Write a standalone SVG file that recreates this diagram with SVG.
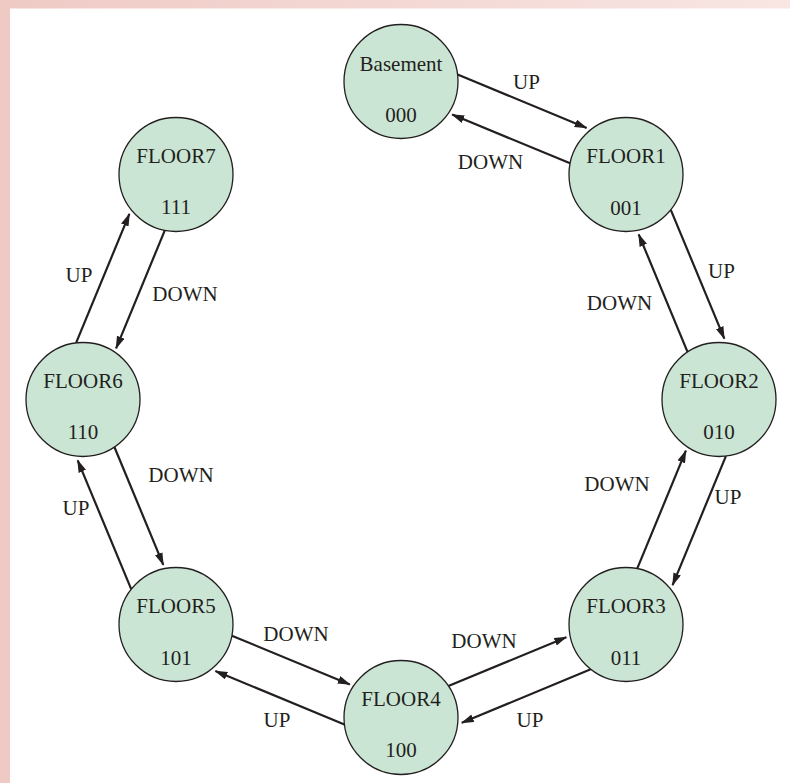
<svg xmlns="http://www.w3.org/2000/svg" width="790" height="783" viewBox="0 0 790 783">
<defs>
<linearGradient id="topband" x1="0" y1="0" x2="1" y2="0">
<stop offset="0" stop-color="#efcac5"/>
<stop offset="1" stop-color="#f8e6e3"/>
</linearGradient>
<marker id="ah" viewBox="0 0 13 8" refX="12" refY="4" markerWidth="13" markerHeight="8" markerUnits="userSpaceOnUse" orient="auto">
<path d="M0,0 L13,4 L0,8 z" fill="#231f20"/>
</marker>
<style>
.node circle{fill:#cbe5d4;stroke:#231f20;stroke-width:1.3}
text{font-family:"Liberation Serif","Times New Roman",serif;font-size:21px;fill:#231f20;text-anchor:middle}
.edge{stroke:#231f20;stroke-width:2.2;fill:none;marker-end:url(#ah)}
</style>
</defs>
<rect x="0" y="0" width="790" height="783" fill="#ffffff"/>
<rect x="0" y="0" width="790" height="8.5" fill="url(#topband)"/>
<rect x="0" y="0" width="10" height="783" fill="#efcac5"/>

<g id="connectors">
<line class="edge" x1="457.6" y1="74.6" x2="586.6" y2="127.9"/>
<line class="edge" x1="570.1" y1="163.3" x2="452.2" y2="114.6"/>
<line class="edge" x1="670.8" y1="209.8" x2="724.3" y2="338.7"/>
<line class="edge" x1="687.6" y1="352.1" x2="638.7" y2="234.3"/>
<line class="edge" x1="725.9" y1="456.1" x2="672.6" y2="585.1"/>
<line class="edge" x1="637.2" y1="568.6" x2="685.9" y2="450.7"/>
<line class="edge" x1="590.7" y1="669.3" x2="461.8" y2="722.8"/>
<line class="edge" x1="448.4" y1="686.1" x2="566.3" y2="637.2"/>
<line class="edge" x1="344.4" y1="724.4" x2="215.4" y2="671.1"/>
<line class="edge" x1="231.9" y1="635.7" x2="349.8" y2="684.4"/>
<line class="edge" x1="131.2" y1="589.2" x2="77.7" y2="460.3"/>
<line class="edge" x1="114.4" y1="447.0" x2="163.3" y2="564.8"/>
<line class="edge" x1="76.1" y1="342.9" x2="129.4" y2="213.9"/>
<line class="edge" x1="164.8" y1="230.4" x2="116.1" y2="348.3"/>
<text x="526.5" y="89">UP</text>
<text x="490.5" y="169">DOWN</text>
<text x="721.5" y="278">UP</text>
<text x="619.5" y="310">DOWN</text>
<text x="617" y="491">DOWN</text>
<text x="728" y="504">UP</text>
<text x="484" y="648">DOWN</text>
<text x="530" y="727">UP</text>
<text x="296" y="641">DOWN</text>
<text x="277" y="727">UP</text>
<text x="181" y="482">DOWN</text>
<text x="76" y="515">UP</text>
<text x="79" y="282">UP</text>
<text x="185" y="301">DOWN</text>
</g>

<g id="basement" class="node">
<circle cx="401" cy="81.5" r="57"/>
<text x="401" y="71">Basement</text>
<text x="401" y="122">000</text>
</g>
<g id="floor1" class="node">
<circle cx="626" cy="174.5" r="57"/>
<text x="626" y="162.5">FLOOR1</text>
<text x="626" y="214.5">001</text>
</g>
<g id="floor2" class="node">
<circle cx="719" cy="399.5" r="57"/>
<text x="719" y="387.5">FLOOR2</text>
<text x="719" y="439">010</text>
</g>
<g id="floor3" class="node">
<circle cx="626" cy="624.5" r="57"/>
<text x="626" y="612.5">FLOOR3</text>
<text x="626" y="664.5">011</text>
</g>
<g id="floor4" class="node">
<circle cx="401" cy="717.5" r="57"/>
<text x="401" y="705.5">FLOOR4</text>
<text x="401" y="757">100</text>
</g>
<g id="floor5" class="node">
<circle cx="176" cy="624.5" r="57"/>
<text x="176" y="612.5">FLOOR5</text>
<text x="176" y="664.5">101</text>
</g>
<g id="floor6" class="node">
<circle cx="83" cy="399.5" r="57"/>
<text x="83" y="387.5">FLOOR6</text>
<text x="83" y="439">110</text>
</g>
<g id="floor7" class="node">
<circle cx="176" cy="174.5" r="57"/>
<text x="176" y="162.5">FLOOR7</text>
<text x="176" y="213.5">111</text>
</g>
</svg>
